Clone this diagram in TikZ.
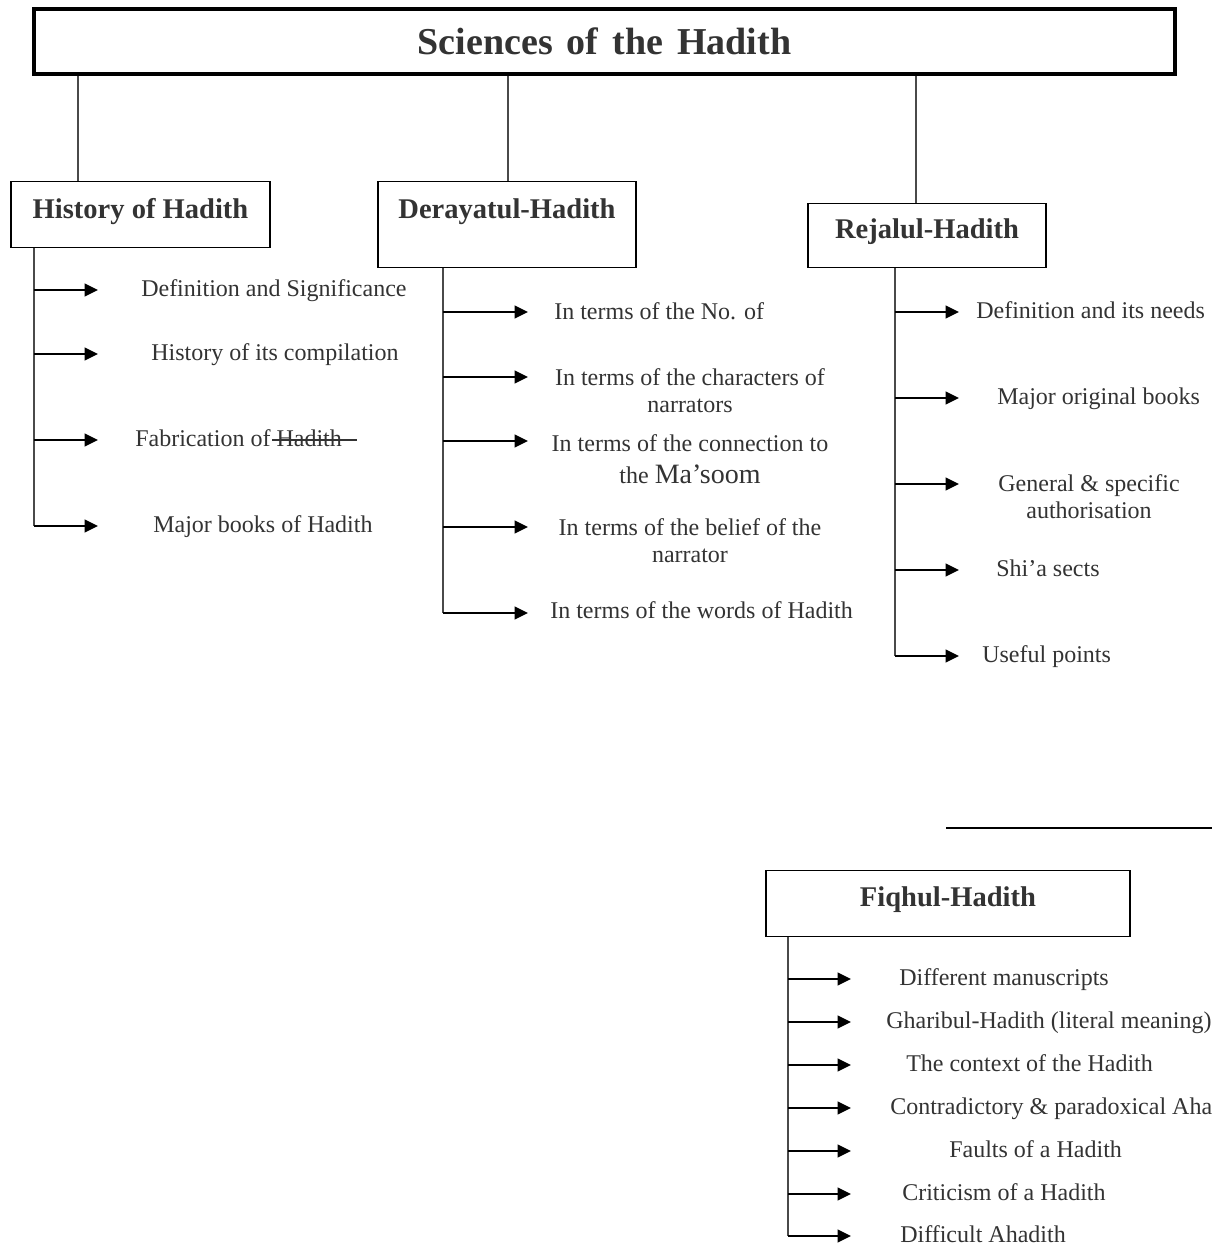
\documentclass[tikz,border=0pt]{standalone}
\usepackage{fontspec}
\setmainfont{Liberation Serif}
\usetikzlibrary{arrows.meta}
\definecolor{txt}{HTML}{333333}
\definecolor{ln}{HTML}{4A4A4A}
\begin{document}
\begin{tikzpicture}[x=0.75pt,y=-0.75pt,
  titlebox/.style={draw=black,line width=3.4pt,inner sep=0pt,font=\fontsize{28.5}{32}\selectfont\bfseries,text=txt},
  box/.style={draw=black,line width=1.1pt,inner sep=0pt,font=\fontsize{21.4}{25}\selectfont\bfseries,text=txt,anchor=north},
  item/.style={font=\fontsize{18}{20.25}\selectfont,text=txt,inner sep=0pt},
  trunk/.style={draw=ln,line width=1.9pt},
  arr/.style={draw=black,line width=1.3pt,-{Triangle[length=10pt,width=9.5pt]}},
  conn/.style={draw=ln,line width=1.2pt}]
\useasboundingbox (0,0) rectangle (1212,1247);
\clip (0,0) rectangle (1212,1247);
\fill[white] (0,0) rectangle (1212,1247);

% title
\node[titlebox,minimum width=855.75pt,minimum height=48.75pt] (title) at (604.5,41.5) {Sciences\hspace{0.12em} of\hspace{0.12em} the\hspace{0.12em} Hadith};

% category boxes
\node[box,minimum width=194.25pt,text height=27.75pt,text depth=21.75pt] (hist) at (140.5,181) {History of Hadith};
\node[box,minimum width=193.5pt,text height=27.75pt,text depth=36.75pt] (der) at (507,181) {Derayatul-Hadith};
\node[box,minimum width=178.5pt,text height=26.25pt,text depth=21.75pt] (rej) at (927,203) {Rejalul-Hadith};
\node[box,minimum width=273pt,text height=27pt,text depth=22.5pt] (fiq) at (948,870) {Fiqhul-Hadith};

% connectors from title
\coordinate (c1) at (78,0);
\coordinate (c2) at (508,0);
\coordinate (c3) at (916,0);
\draw[conn] (title.south -| c1) -- (hist.north -| c1);
\draw[conn] (title.south -| c2) -- (der.north -| c2);
\draw[conn] (title.south -| c3) -- (rej.north -| c3);

% stray line
\coordinate (s1) at (946,828);
\coordinate (s2) at (1212,828);
\draw[conn,draw=black] (s1) -- (s2);

% History of Hadith
\node[item,anchor=base west] (h1) at (141,296) {Definition and Significance};
\node[item,anchor=base west] (h2) at (151,360) {History of its compilation};
\node[item,anchor=base west] (h3) at (135,446) {Fabrication of Hadith};
\node[item,anchor=base west] (h4) at (153,532) {Major books of Hadith};
\draw[line width=1.1pt,draw=txt] ([shift={(137,-6)}]h3.base west) -- ++(85,0);
\coordinate (ht) at (34,0);
\coordinate (ha1) at (98,290);
\coordinate (ha2) at (98,354);
\coordinate (ha3) at (98,440);
\coordinate (ha4) at (98,526);
\draw[trunk] (hist.south -| ht) -- (ht |- ha4);
\foreach \i in {1,...,4} \draw[arr] (ht |- ha\i) -- (ha\i);

% Derayatul-Hadith
\node[item,anchor=base west] (d1) at (554,319) {In terms of the No. of};
\node[item,align=center] (d2) at (690,391) {In terms of the characters of\\narrators};
\node[item,align=center] (d3) at (690,459) {In terms of the connection to\\[4pt]the {\fontsize{21}{25}\selectfont Ma’soom}};
\node[item,align=center] (d4) at (690,541) {In terms of the belief of the\\narrator};
\node[item,anchor=base west] (d5) at (550,618) {In terms of the words of Hadith};
\coordinate (dt) at (443,0);
\coordinate (da1) at (528,312);
\coordinate (da2) at (528,377);
\coordinate (da3) at (528,441);
\coordinate (da4) at (528,527);
\coordinate (da5) at (528,613);
\draw[trunk] (der.south -| dt) -- (dt |- da5);
\foreach \i in {1,...,5} \draw[arr] (dt |- da\i) -- (da\i);

% Rejalul-Hadith
\node[item,anchor=base west] (r1) at (976,318) {Definition and its needs};
\node[item,anchor=base west] (r2) at (997,404) {Major original books};
\node[item,align=center] (r3) at (1089,497) {General \& specific\\authorisation};
\node[item,anchor=base west] (r4) at (996,576) {Shi’a sects};
\node[item,anchor=base west] (r5) at (982,662) {Useful points};
\coordinate (rt) at (895,0);
\coordinate (ra1) at (959,312);
\coordinate (ra2) at (959,398);
\coordinate (ra3) at (959,484);
\coordinate (ra4) at (959,570);
\coordinate (ra5) at (959,656);
\draw[trunk] (rej.south -| rt) -- (rt |- ra5);
\foreach \i in {1,...,5} \draw[arr] (rt |- ra\i) -- (ra\i);

% Fiqhul-Hadith
\node[item,anchor=base west] (f1) at (899,985) {Different manuscripts};
\node[item,anchor=base west] (f2) at (886,1028) {Gharibul-Hadith (literal meaning)};
\node[item,anchor=base west] (f3) at (906,1071) {The context of the Hadith};
\node[item,anchor=base west] (f4) at (890,1114) {Contradictory \& paradoxical Ahadith};
\node[item,anchor=base west] (f5) at (949,1157) {Faults of a Hadith};
\node[item,anchor=base west] (f6) at (902,1200) {Criticism of a Hadith};
\node[item,anchor=base west] (f7) at (900,1242) {Difficult Ahadith};
\coordinate (ft) at (788,0);
\coordinate (fa1) at (851,979);
\coordinate (fa2) at (851,1022);
\coordinate (fa3) at (851,1065);
\coordinate (fa4) at (851,1108);
\coordinate (fa5) at (851,1151);
\coordinate (fa6) at (851,1194);
\coordinate (fa7) at (851,1236);
\draw[trunk] (fiq.south -| ft) -- (ft |- fa7);
\foreach \i in {1,...,7} \draw[arr] (ft |- fa\i) -- (fa\i);
\end{tikzpicture}
\end{document}
